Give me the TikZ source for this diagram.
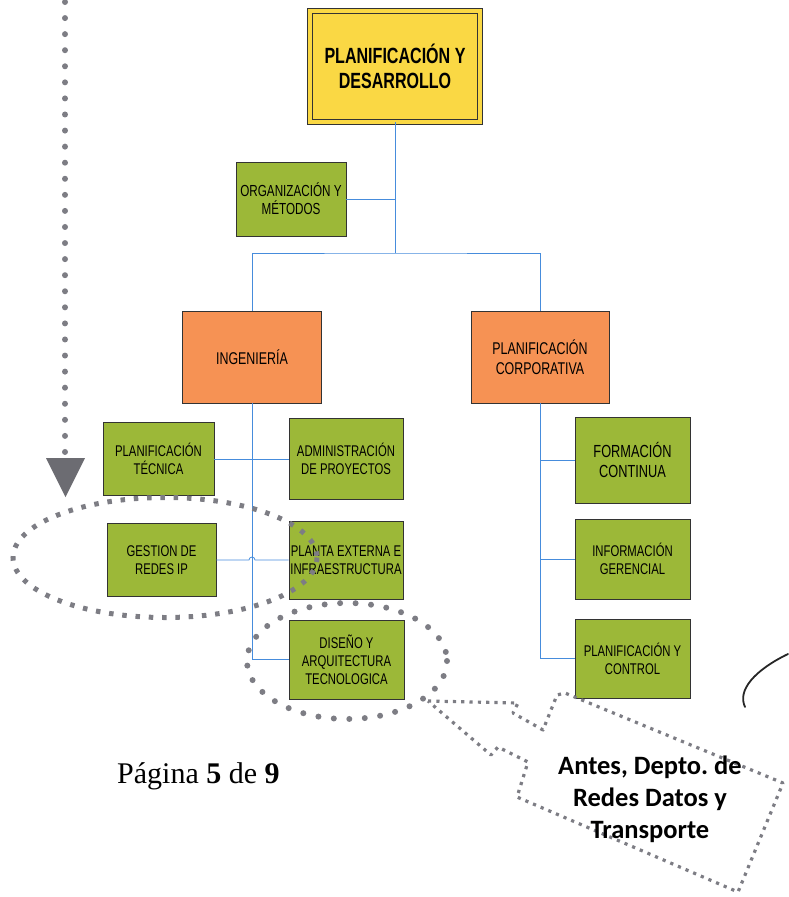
\documentclass[tikz,border=0pt]{standalone}
\usepackage{fontspec}
\setmainfont{Liberation Serif}
\newfontfamily\boxfont[FakeStretch=0.73]{Liberation Sans}
\newfontfamily\callfont{Carlito}
\definecolor{boxgreen}{RGB}{156,184,56}
\definecolor{boxorange}{RGB}{246,146,84}
\definecolor{boxyellow}{RGB}{250,216,68}
\definecolor{lineblue}{RGB}{70,140,220}
\definecolor{dotgray}{RGB}{125,125,132}
\definecolor{arrgray}{RGB}{108,108,114}
\begin{document}
\begin{tikzpicture}[x=1pt,y=-1pt,
  box/.style={draw=black!80, line width=0.9pt, inner sep=0pt, align=center,
    font={\boxfont\fontsize{15.5}{18}\selectfont}},
  gbox/.style={box, fill=boxgreen},
  obox/.style={box, fill=boxorange, font={\boxfont\fontsize{17}{20}\selectfont}},
  conn/.style={draw=lineblue, line width=0.8pt},
  rdots/.style={draw=dotgray, line width=6pt, line cap=round, dash pattern=on 0pt off 16.07pt},
  sdots/.style={draw=dotgray, line width=5pt, dash pattern=on 4.5pt off 8.8pt},
  edots/.style={draw=dotgray, line width=6pt, line cap=round, dash pattern=on 0pt off 15.5pt},
  cdots/.style={draw=dotgray, line width=3.2pt, dash pattern=on 3.2pt off 5.1pt, line join=round}
]
\useasboundingbox (0,0) rectangle (788,897);

% nodes
\node[box, fill=boxyellow, double=boxyellow, double distance=4pt,
  minimum width=170pt, minimum height=111pt,
  font={\boxfont\bfseries\fontsize{22}{25}\selectfont}] (top) at (395,66.5) {PLANIFICACIÓN Y\\DESARROLLO};
\coordinate (j1) at (395,253);

\node[gbox, minimum width=110pt, minimum height=74pt, font={\boxfont\fontsize{16}{18}\selectfont}] (org) at (291,199) {ORGANIZACIÓN Y\\MÉTODOS};

\node[obox, minimum width=139pt, minimum height=92pt] (ing) at (252,357) {INGENIERÍA};
\node[obox, minimum width=138pt, minimum height=92pt] (corp) at (540,357) {PLANIFICACIÓN\\CORPORATIVA};

\node[gbox, minimum width=111pt, minimum height=73pt] (pt) at (158.5,459) {PLANIFICACIÓN\\TÉCNICA};
\node[gbox, minimum width=114pt, minimum height=81pt] (adm) at (346,459) {ADMINISTRACIÓN\\DE PROYECTOS};
\node[gbox, minimum width=109pt, minimum height=73pt] (gest) at (161.5,560) {GESTION DE\\REDES IP};
\node[gbox, minimum width=114pt, minimum height=78pt] (pla) at (346,560) {PLANTA EXTERNA E\\INFRAESTRUCTURA};
\node[gbox, minimum width=115pt, minimum height=79pt] (dis) at (346.5,659.5) {DISEÑO Y\\ARQUITECTURA\\TECNOLOGICA};

\node[gbox, minimum width=115pt, minimum height=86pt, font={\boxfont\fontsize{17.5}{20}\selectfont}] (form) at (632.5,460) {FORMACIÓN\\CONTINUA};
\node[gbox, minimum width=115pt, minimum height=80pt] (info) at (632.5,559) {INFORMACIÓN\\GERENCIAL};
\node[gbox, minimum width=115pt, minimum height=79pt] (pyc) at (632.5,658.5) {PLANIFICACIÓN Y\\CONTROL};

% connectors
\draw[conn] (top.south) -- (j1);
\draw[conn] (org.east) -- (org.east -| j1);
\draw[conn] (ing.north) |- (j1) -| (corp.north);
\draw[conn] (ing.south) -- (ing.south |- dis.west) -- (dis.west);
\draw[conn] (pt.east) -- (adm.west);
\draw[conn] (gest.east) -- (249,560) arc[start angle=180, end angle=360, radius=3] -- (pla.west);
\draw[conn] (corp.south) -- (corp.south |- pyc.west) -- (pyc.west);
\draw[conn] (corp.south |- form.west) -- (form.west);
\draw[conn] (corp.south |- info.west) -- (info.west);

% left dotted arrow
\coordinate (d0) at (65,2);
\coordinate (d1) at (65,453);
\draw[rdots] (d0) -- (d1);
\fill[arrgray] (46,458) -- (85,458) -- (65.5,497) -- cycle;

% dotted ellipses
\draw[sdots] (165,557.5) ellipse [x radius=152, y radius=60];
\draw[edots] (347,661) ellipse [x radius=100, y radius=58];

% callout
\draw[cdots] (428,701) -- (518,703) -- (513,713) -- (543,730) -- (557,695) -- (565,693)
  -- (783,783) -- (738,892) -- (517,797) -- (528,762) -- (498,747) -- (491,755) -- cycle;
\node[font={\callfont\bfseries\fontsize{26.5}{32}\selectfont}, align=center, inner sep=0pt] (call) at (650,799)
  {Antes, Depto.\ de\\Redes Datos y\\Transporte};

% page label
\node[anchor=base west, inner sep=0pt, font={\fontsize{30}{35}\selectfont}] (pag) at (117,783)
  {Página \textbf{5} de \textbf{9}};

% hand-drawn curve
\draw[line width=1.8pt, black!85, line cap=round] (745,707) .. controls (737,690) and (755,670) .. (788,654);
\end{tikzpicture}
\end{document}
